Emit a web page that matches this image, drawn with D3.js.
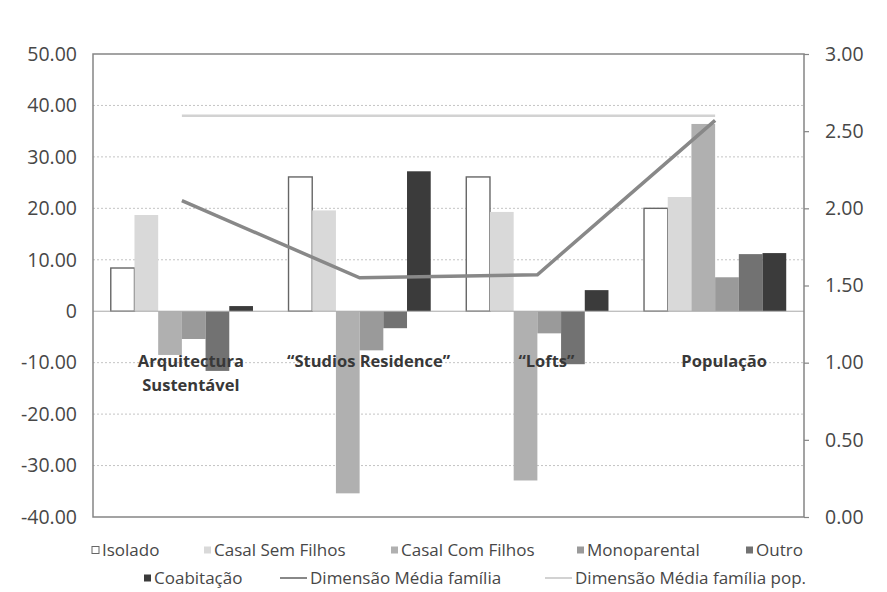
<!DOCTYPE html>
<html>
<head>
<meta charset="utf-8">
<script src="https://cdn.jsdelivr.net/npm/d3@7"></script>
<style>
  html, body { margin: 0; padding: 0; background: #fff; }
  svg { display: block; }
</style>
</head>
<body>
<svg id="chart"></svg>
<script>
// Dimensão das famílias por tipologia (barras) + dimensão média (linhas)
const categories = ['Arquitectura\nSustentável', '\u201CStudios Residence\u201D', '\u201CLofts\u201D', 'População'];
const seriesNames = ['Isolado', 'Casal Sem Filhos', 'Casal Com Filhos', 'Monoparental', 'Outro', 'Coabitação'];

const isolado        = [8.4, 26.1, 26.1, 20.0];
const casalSemFilhos = [18.7, 19.6, 19.3, 22.2];
const casalComFilhos = [-8.5, -35.4, -32.9, 36.4];
const monoparental   = [-5.4, -7.6, -4.3, 6.6];
const outro          = [-11.6, -3.3, -10.3, 11.1];
const coabitacao     = [1.0, 27.2, 4.1, 11.3];

const dimMedia    = [2.05, 1.55, 1.57, 2.57];
const dimMediaPop = [2.60, 2.60, 2.60, 2.60];

const leftTicks = [50, 40, 30, 20, 10, 0, -10, -20, -30, -40];
const leftTickLabels = ['50.00', '40.00', '30.00', '20.00', '10.00', '0', '-10.00', '-20.00', '-30.00', '-40.00'];
const rightTicks = [3, 2.5, 2, 1.5, 1, 0.5, 0];
const rightTickLabels = ['3.00', '2.50', '2.00', '1.50', '1.00', '0.50', '0.00'];

const barValues = [isolado, casalSemFilhos, casalComFilhos, monoparental, outro, coabitacao];
const barFill   = ['#ffffff', '#d9d9d9', '#b0b0b0', '#9a9a9a', '#727272', '#3b3b3b'];
const barStroke = ['#666666', 'none', 'none', 'none', 'none', 'none'];

const W = 887, H = 592;
const L = 93, R = 804, T = 54, B = 517;

const svg = d3.select('#chart').attr('width', W).attr('height', H);

const x0 = d3.scaleBand().domain(categories).range([L, R]);
const x1 = d3.scaleBand().domain(seriesNames).range([0, x0.bandwidth()]).paddingOuter(0.75);
const yL = d3.scaleLinear().domain([-40, 50]).range([B, T]);
const yR = d3.scaleLinear().domain([0, 3]).range([B, T]);

// grelha
svg.append('g')
  .selectAll('line')
  .data(leftTicks.filter(d => d !== 0 && d !== 50 && d !== -40))
  .join('line')
  .attr('x1', L).attr('x2', R)
  .attr('y1', d => yL(d)).attr('y2', d => yL(d))
  .attr('stroke', '#c4c4c4')
  .attr('stroke-width', 1)
  .attr('stroke-dasharray', '2,2');

// barras
const rows = categories.map((c, i) => seriesNames.map((s, j) => ({ cat: c, s, j, v: barValues[j][i] })));

svg.append('g')
  .selectAll('g')
  .data(rows)
  .join('g')
  .attr('transform', d => `translate(${x0(d[0].cat)},0)`)
  .selectAll('rect')
  .data(d => d)
  .join('rect')
  .attr('x', d => x1(d.s))
  .attr('width', x1.bandwidth())
  .attr('y', d => yL(Math.max(0, d.v)))
  .attr('height', d => Math.abs(yL(d.v) - yL(0)))
  .attr('fill', d => barFill[d.j])
  .attr('stroke', d => barStroke[d.j])
  .attr('stroke-width', 1.4);

// linha do zero
svg.append('line')
  .attr('x1', L).attr('x2', R)
  .attr('y1', yL(0)).attr('y2', yL(0))
  .attr('stroke', '#a8a8a8').attr('stroke-width', 1);

// caixa da área do gráfico
svg.append('rect')
  .attr('x', L).attr('y', T)
  .attr('width', R - L).attr('height', B - T)
  .attr('fill', 'none')
  .attr('stroke', '#858585')
  .attr('stroke-width', 1.5);

// linhas (eixo secundário)
const cx = c => x0(c) + x0.bandwidth() / 2;
const line = d3.line().x(d => cx(d.c)).y(d => yR(d.v));

svg.append('path')
  .datum(categories.map((c, i) => ({ c, v: dimMediaPop[i] })))
  .attr('d', line)
  .attr('fill', 'none')
  .attr('stroke', '#d2d2d2')
  .attr('stroke-width', 2.5);

svg.append('path')
  .datum(categories.map((c, i) => ({ c, v: dimMedia[i] })))
  .attr('d', line)
  .attr('fill', 'none')
  .attr('stroke', '#888888')
  .attr('stroke-width', 3.5);

// eixos
const axisFont = '"Open Sans", sans-serif';

const gL = svg.append('g')
  .attr('transform', `translate(${L},0)`)
  .call(d3.axisLeft(yL).tickValues(leftTicks).tickSize(0).tickPadding(16)
    .tickFormat((d, i) => leftTickLabels[i]));
gL.select('.domain').remove();
gL.selectAll('text')
  .attr('font-family', axisFont).attr('font-size', 19.5)
  .attr('fill', '#474747');

const gR = svg.append('g')
  .attr('transform', `translate(${R},0)`)
  .call(d3.axisRight(yR).tickValues(rightTicks).tickSize(5).tickPadding(16)
    .tickFormat((d, i) => rightTickLabels[i]));
gR.select('.domain').remove();
gR.selectAll('line').attr('stroke', '#858585').attr('stroke-width', 1.2);
gR.selectAll('text')
  .attr('font-family', axisFont).attr('font-size', 19.5)
  .attr('fill', '#474747');

// rótulos das categorias
svg.append('g')
  .selectAll('text')
  .data(categories)
  .join('text')
  .attr('x', d => cx(d) + 9)
  .attr('y', 367)
  .attr('text-anchor', 'middle')
  .attr('font-family', axisFont)
  .attr('font-weight', 'bold')
  .attr('font-size', 16.5)
  .attr('fill', '#383838')
  .each(function (d) {
    const parts = d.split('\n');
    d3.select(this).selectAll('tspan')
      .data(parts)
      .join('tspan')
      .attr('x', cx(d) + 9)
      .attr('dy', (p, k) => k === 0 ? 0 : 24)
      .text(p => p);
  });

// legenda
const legendItems = [
  { name: 'Isolado',                      type: 'box',  j: 0, x: 92,  y: 550 },
  { name: 'Casal Sem Filhos',             type: 'box',  j: 1, x: 204, y: 550 },
  { name: 'Casal Com Filhos',             type: 'box',  j: 2, x: 391, y: 550 },
  { name: 'Monoparental',                 type: 'box',  j: 3, x: 577, y: 550 },
  { name: 'Outro',                        type: 'box',  j: 4, x: 746, y: 550 },
  { name: 'Coabitação',                   type: 'box',  j: 5, x: 144, y: 578 },
  { name: 'Dimensão Média família',       type: 'line', c: '#888888', x: 280, y: 578 },
  { name: 'Dimensão Média família pop.',  type: 'line', c: '#d2d2d2', x: 545, y: 578 },
];

const lg = svg.append('g')
  .selectAll('g')
  .data(legendItems)
  .join('g')
  .attr('transform', d => `translate(${d.x},${d.y})`);

lg.filter(d => d.type === 'box').append('rect')
  .attr('x', 0).attr('y', -3.5)
  .attr('width', 7).attr('height', 7)
  .attr('fill', d => barFill[d.j])
  .attr('stroke', d => d.j === 0 ? '#666666' : 'none')
  .attr('stroke-width', 1);

lg.filter(d => d.type === 'line').append('line')
  .attr('x1', 0).attr('x2', 27)
  .attr('y1', 0).attr('y2', 0)
  .attr('stroke', d => d.c)
  .attr('stroke-width', 2);

lg.append('text')
  .attr('x', d => d.type === 'line' ? 30 : 10)
  .attr('y', 0)
  .attr('dy', '0.35em')
  .attr('font-family', axisFont)
  .attr('font-size', 17)
  .attr('fill', '#474747')
  .text(d => d.name);
</script>
</body>
</html>
